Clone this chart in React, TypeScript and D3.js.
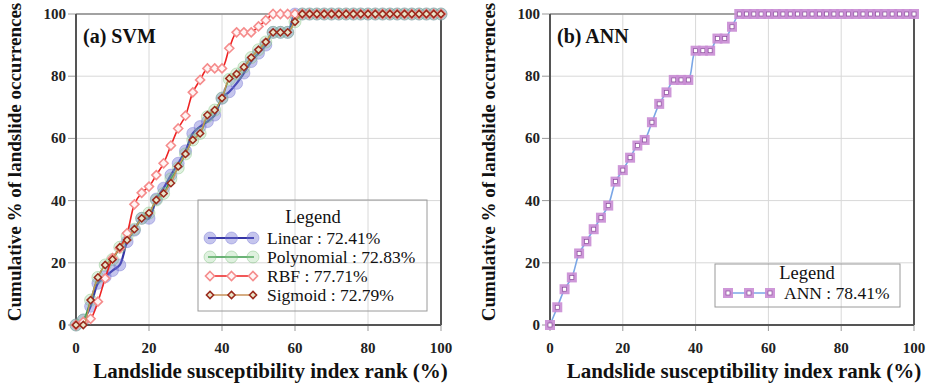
import React from "react";
import * as d3 from "d3";

// rank of landslide susceptibility index (%)
const rank = [0, 2, 4, 6, 8, 10, 12, 14, 16, 18, 20, 22, 24, 26, 28, 30, 32, 34, 36, 38, 40, 42, 44, 46, 48, 50, 52, 54, 56, 58, 60, 62, 64, 66, 68, 70, 72, 74, 76, 78, 80, 82, 84, 86, 88, 90, 92, 94, 96, 98, 100];

// cumulative % of landslide occurrences, SVM kernels
const linear = [0, 1.6, 6, 13.4, 15.5, 17.5, 19.3, 26.8, 30.5, 34.3, 34.3, 40.5, 44, 48.2, 52, 56, 61.6, 63.8, 65.4, 67.5, 72.9, 75, 77.7, 81, 84.7, 87.4, 90, 94.1, 94.1, 94.1, 100, 100, 100, 100, 100, 100, 100, 100, 100, 100, 100, 100, 100, 100, 100, 100, 100, 100, 100, 100, 100];
const polynomial = [0, 1.6, 8, 15.3, 19.3, 21.1, 25, 28.5, 30.8, 34.3, 36, 40.2, 42.3, 47, 50.5, 55, 59.5, 61.6, 67, 69.1, 73, 79, 80.7, 82.9, 86, 88.5, 91, 94.1, 94.1, 94.1, 97.5, 100, 100, 100, 100, 100, 100, 100, 100, 100, 100, 100, 100, 100, 100, 100, 100, 100, 100, 100, 100];
const rbf = [0, 1, 2, 7.5, 15, 21.5, 24.7, 29.5, 38.8, 42.5, 44.5, 48.2, 52, 57.7, 63.2, 67.3, 74.8, 78.8, 82.5, 82.5, 82.5, 89, 94.1, 94.1, 94.1, 96, 98, 100, 100, 100, 100, 100, 100, 100, 100, 100, 100, 100, 100, 100, 100, 100, 100, 100, 100, 100, 100, 100, 100, 100, 100];
const sigmoid = [0, 0, 8, 15.3, 19.3, 21.1, 25, 27.3, 30.8, 34.3, 36, 40.2, 42.3, 45.6, 51, 55, 59.5, 61.6, 67.5, 69.1, 73, 79.3, 80.7, 82.9, 86, 88.5, 91, 94.1, 94.1, 94.1, 97.5, 100, 100, 100, 100, 100, 100, 100, 100, 100, 100, 100, 100, 100, 100, 100, 100, 100, 100, 100, 100];

// ANN
const ann = [0, 5.7, 11.5, 15.3, 23, 26.9, 30.8, 34.5, 38.4, 46.1, 49.8, 53.8, 57.7, 59.5, 65.2, 71.1, 74.8, 78.8, 78.8, 78.8, 88.2, 88.2, 88.2, 92.1, 92.1, 95.9, 100, 100, 100, 100, 100, 100, 100, 100, 100, 100, 100, 100, 100, 100, 100, 100, 100, 100, 100, 100, 100, 100, 100, 100, 100];

const ticks = [0, 20, 40, 60, 80, 100];
const svmLegend = ["Linear : 72.41%", "Polynomial : 72.83%", "RBF : 77.71%", "Sigmoid : 72.79%"];
const annLegend = "ANN : 78.41%";

const serif = "'Liberation Serif', 'Times New Roman', serif";

type Marker = "circleBlue" | "circleGreen" | "diamondRed" | "diamondDark" | "square";

function drawMarker(kind: Marker, x: number, y: number, key: string | number) {
  if (kind === "circleBlue")
    return <circle key={key} cx={x} cy={y} r={6} fill="rgba(110,110,210,0.4)" stroke="rgba(110,110,210,0.5)" strokeWidth={0.8} />;
  if (kind === "circleGreen")
    return <circle key={key} cx={x} cy={y} r={6} fill="rgba(150,210,150,0.3)" stroke="rgba(120,190,120,0.5)" strokeWidth={0.8} />;
  if (kind === "diamondRed") {
    const s = 4.5;
    return <path key={key} d={`M${x},${y - s}L${x + s},${y}L${x},${y + s}L${x - s},${y}Z`} fill="#fff5f5" stroke="#f58c8c" strokeWidth={1.6} />;
  }
  if (kind === "diamondDark") {
    const s = 3.6;
    return <path key={key} d={`M${x},${y - s}L${x + s},${y}L${x},${y + s}L${x - s},${y}Z`} fill="#e8e4c8" stroke="#9a2a1c" strokeWidth={1.5} />;
  }
  return (
    <g key={key}>
      <rect x={x - 5} y={y - 5} width={10} height={10} fill="#c98cd4" fillOpacity={0.9} />
      <rect x={x - 2} y={y - 2} width={4} height={4} fill="#fff" stroke="#8a4c9a" strokeWidth={0.7} />
    </g>
  );
}

function Frame({ x0, x1, title }: { x0: number; x1: number; title: string }) {
  const x = d3.scaleLinear().domain([0, 100]).range([x0, x1]);
  const y = d3.scaleLinear().domain([0, 100]).range([325, 14]);
  return (
    <g>
      {ticks.map((t) => (
        <g key={"g" + t}>
          <line x1={x(t)} x2={x(t)} y1={y(0)} y2={y(100)} stroke="#d8d8d8" strokeWidth={1} />
          <line x1={x(0)} x2={x(100)} y1={y(t)} y2={y(t)} stroke="#d8d8d8" strokeWidth={1} />
          <line x1={x(0) - 8} x2={x(0)} y1={y(t)} y2={y(t)} stroke="#999" strokeWidth={1} />
          <line x1={x(t)} x2={x(t)} y1={y(0)} y2={y(0) + 6} stroke="#999" strokeWidth={1} />
          <text x={x(0) - 10} y={y(t) + 5} textAnchor="end" fontFamily={serif} fontWeight="bold" fontSize={15} fill="#222">{t}</text>
          <text x={x(t)} y={353} textAnchor="middle" fontFamily={serif} fontWeight="bold" fontSize={15} fill="#222">{t}</text>
        </g>
      ))}
      <line x1={x(0)} x2={x(100)} y1={y(100)} y2={y(100)} stroke="#8a8a8a" strokeWidth={1.5} />
      <line x1={x(100)} x2={x(100)} y1={y(100)} y2={y(0)} stroke="#555" strokeWidth={2} />
      <line x1={x(0)} x2={x(0)} y1={y(100)} y2={y(0)} stroke="#555" strokeWidth={2} />
      <line x1={x(0)} x2={x(100)} y1={y(0)} y2={y(0)} stroke="#555" strokeWidth={2} />
      <text x={x(0) + 7} y={43} fontFamily={serif} fontWeight="bold" fontSize={20} fill="#111">{title}</text>
      <text x={(x0 + x1) / 2 + 12} y={378} textAnchor="middle" fontFamily={serif} fontWeight="bold" fontSize={21} fill="#111">Landslide susceptibility index rank (%)</text>
      <text transform={`translate(${x0 - 55},162) rotate(-90)`} textAnchor="middle" fontFamily={serif} fontWeight="bold" fontSize={19} fill="#111">Cumulative % of landslide occurrences</text>
    </g>
  );
}

function Series({ x0, x1, values, color, width, marker }: { x0: number; x1: number; values: number[]; color: string; width: number; marker: Marker }) {
  const x = d3.scaleLinear().domain([0, 100]).range([x0, x1]);
  const y = d3.scaleLinear().domain([0, 100]).range([325, 14]);
  const line = d3
    .line<number>()
    .x((d, i) => x(rank[i]))
    .y((d) => y(d))
    .curve(d3.curveCatmullRom.alpha(0.5));
  return (
    <g>
      <path d={line(values) || ""} fill="none" stroke={color} strokeWidth={width} />
      {values.map((d, i) => drawMarker(marker, x(rank[i]), y(d), i))}
    </g>
  );
}

export default function App() {
  const svmSeries = [
    { values: linear, color: "#3535a5", width: 2.2, marker: "circleBlue" as Marker },
    { values: polynomial, color: "#3a9a4a", width: 1.6, marker: "circleGreen" as Marker },
    { values: rbf, color: "#ee2222", width: 1.6, marker: "diamondRed" as Marker },
    { values: sigmoid, color: "#c8925a", width: 1.4, marker: "diamondDark" as Marker },
  ];
  return (
    <svg width={932} height={384} style={{ position: "absolute", left: 0, top: 0, background: "#fff" }}>
      <Frame x0={76} x1={441} title="(a) SVM" />
      {svmSeries.map((s, i) => (
        <Series key={i} x0={76} x1={441} values={s.values} color={s.color} width={s.width} marker={s.marker} />
      ))}
      {/* legend SVM */}
      <rect x={198} y={200} width={229} height={111} fill="none" stroke="#9a9a9a" strokeWidth={1} />
      <text x={313} y={223} textAnchor="middle" fontFamily={serif} fontSize={18.5} fill="#111">Legend</text>
      {svmSeries.map((s, i) => {
        const yy = 238 + i * 19;
        return (
          <g key={"l" + i}>
            <line x1={208} x2={254} y1={yy} y2={yy} stroke={s.color} strokeWidth={s.width} />
            {[210, 231.5, 253].map((mx, j) => drawMarker(s.marker, mx, yy, j))}
            <text x={267} y={yy + 6} fontFamily={serif} fontSize={17.5} fill="#111">{svmLegend[i]}</text>
          </g>
        );
      })}

      <Frame x0={550} x1={914} title="(b) ANN" />
      <Series x0={550} x1={914} values={ann} color="#7aa6e6" width={1.6} marker="square" />
      {/* legend ANN */}
      <rect x={715} y={264} width={185} height={43} fill="none" stroke="#9a9a9a" strokeWidth={1} />
      <text x={807} y={279} textAnchor="middle" fontFamily={serif} fontSize={18.5} fill="#111">Legend</text>
      <line x1={726} x2={772} y1={293} y2={293} stroke="#7aa6e6" strokeWidth={1.6} />
      {[728, 749, 770].map((mx, j) => drawMarker("square", mx, 293, j))}
      <text x={784} y={299} fontFamily={serif} fontSize={17.5} fill="#111">{annLegend}</text>
    </svg>
  );
}
